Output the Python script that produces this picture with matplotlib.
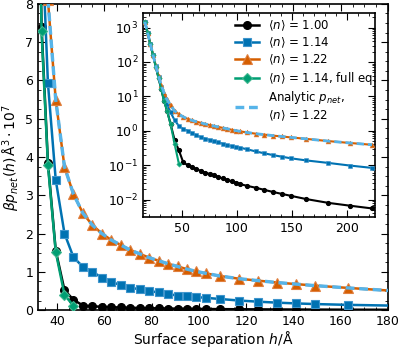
import matplotlib
matplotlib.use("Agg")
import matplotlib.pyplot as plt
from matplotlib.ticker import MultipleLocator, AutoMinorLocator, LogLocator, NullFormatter

plt.rcParams['font.family'] = ['DejaVu Sans']
plt.rcParams['mathtext.fontset'] = 'dejavusans'

# surface separation grid (Å)
h = [16, 18.5, 21, 23.5, 26, 28.5, 31, 33.5, 36.2, 39.5, 43.2, 47, 51, 55, 59, 63, 67, 71,
     75, 79, 83, 87, 91, 95, 99, 103, 109, 117, 125, 133, 141, 149, 163, 183, 203, 223]
h_full = h[:12]

p_100 = [1480, 700, 330, 155, 72, 34, 16, 7.4, 3.85, 1.55, 0.52, 0.27, 0.12, 0.10, 0.086,
         0.076, 0.068, 0.061, 0.055, 0.050, 0.045, 0.041, 0.037, 0.034, 0.031, 0.028,
         0.025, 0.022, 0.019, 0.0165, 0.0145, 0.0128, 0.0103, 0.0080, 0.0066, 0.0055]
p_114 = [1480, 705, 333, 158, 75, 37, 19, 10.0, 5.93, 3.40, 2.0, 1.38, 1.13, 1.0, 0.85,
         0.74, 0.65, 0.59, 0.54, 0.50, 0.46, 0.42, 0.38, 0.36, 0.34, 0.32, 0.29, 0.25,
         0.22, 0.195, 0.175, 0.158, 0.137, 0.116, 0.097, 0.083]
p_122 = [1480, 705, 335, 160, 77, 39, 21, 12.5, 8.1, 5.49, 3.74, 3.03, 2.53, 2.22, 2.0,
         1.83, 1.70, 1.57, 1.47, 1.37, 1.29, 1.21, 1.14, 1.07, 1.01, 0.96, 0.89, 0.82,
         0.77, 0.72, 0.68, 0.64, 0.58, 0.50, 0.44, 0.39]
p_114_full = [1480, 700, 330, 155, 72, 34, 16, 7.28, 3.79, 1.52, 0.40, 0.11]
p_analytic_122 = [1480, 705, 335, 160, 77, 39, 21, 12.5, 8.1, 5.49, 3.74, 3.03, 2.53, 2.22,
                  2.0, 1.83, 1.70, 1.57, 1.47, 1.37, 1.29, 1.21, 1.14, 1.07, 1.01, 0.96,
                  0.89, 0.82, 0.77, 0.72, 0.68, 0.64, 0.58, 0.50, 0.44, 0.39]

labels = [r"$\langle n\rangle$ = 1.00", r"$\langle n\rangle$ = 1.14", r"$\langle n\rangle$ = 1.22",
          r"$\langle n\rangle$ = 1.14, full eq.", "Analytic $p_{net}$,\n" + r"$\langle n\rangle$ = 1.22"]

C_BLACK = "black"
C_BLUE = "#0072B2"
C_ORANGE = "#D55E00"
C_GREEN = "#009E73"
C_SKY = "#56B4E9"

fig = plt.figure(figsize=(4.0, 3.5), dpi=100)
ax = fig.add_axes([0.095, 0.114, 0.875, 0.875])


def draw(a, ms_scale, lw):
    l1, = a.plot(h, p_100, '-o', color=C_BLACK, lw=lw, ms=5.5 * ms_scale, label=labels[0], zorder=3)
    l2, = a.plot(h, p_114, '-s', color=C_BLUE, lw=lw, ms=6 * ms_scale, mec="#3f95cc", mew=0.8 * ms_scale,
                 label=labels[1], zorder=3)
    l3, = a.plot(h, p_122, '-^', color=C_ORANGE, lw=lw, ms=7 * ms_scale, mec="#e08040", mew=0.8 * ms_scale,
                 label=labels[2], zorder=3)
    l4, = a.plot(h_full, p_114_full, '-D', color=C_GREEN, lw=lw, ms=5.5 * ms_scale, mec="#40b890",
                 mew=0.8 * ms_scale, label=labels[3], zorder=4)
    l5, = a.plot(h, p_analytic_122, '--', color=C_SKY, lw=lw * 1.35, dashes=(2.6, 1.4), label=labels[4], zorder=5)
    return [l1, l2, l3, l4, l5]


handles = draw(ax, 1.0, 1.8)
ax.set_xlim(32, 180)
ax.set_ylim(0, 8)
ax.xaxis.set_major_locator(MultipleLocator(20))
ax.xaxis.set_minor_locator(AutoMinorLocator(4))
ax.yaxis.set_major_locator(MultipleLocator(1))
ax.yaxis.set_minor_locator(AutoMinorLocator(4))
ax.tick_params(which='both', direction='in', top=True, right=True, labelsize=9)
ax.tick_params(which='major', length=5)
ax.tick_params(which='minor', length=2.5)
ax.set_xlabel("Surface separation $h/$Å", fontsize=10, labelpad=1)
ax.set_ylabel(r"$\beta p_{net}(h)\,$Å$^3\cdot 10^7$", fontsize=10, labelpad=2)
for s in ax.spines.values():
    s.set_linewidth(1.2)

axi = fig.add_axes([0.358, 0.38, 0.579, 0.582])
axi.set_zorder(10)
draw(axi, 0.5, 1.5)
axi.set_yscale('log')
axi.set_xlim(14.5, 225.5)
axi.set_ylim(3.1e-3, 2.6e3)
axi.xaxis.set_major_locator(MultipleLocator(50))
axi.xaxis.set_minor_locator(AutoMinorLocator(5))
axi.yaxis.set_major_locator(LogLocator(base=10, numticks=20))
axi.yaxis.set_minor_locator(LogLocator(base=10, subs=[i for i in range(2, 10)], numticks=20))
axi.yaxis.set_minor_formatter(NullFormatter())
axi.tick_params(which='both', direction='in', top=True, right=True, labelsize=9)
axi.tick_params(which='major', length=5)
axi.tick_params(which='minor', length=2.5)
for s in axi.spines.values():
    s.set_linewidth(1.2)

axi.legend(handles, labels, loc='upper right', bbox_to_anchor=(1.025, 0.99), frameon=False, fontsize=8.5,
           handlelength=2.0, borderaxespad=0.1, borderpad=0.2, labelspacing=0.22, handletextpad=0.8)

fig.savefig("out.png", dpi=100)
